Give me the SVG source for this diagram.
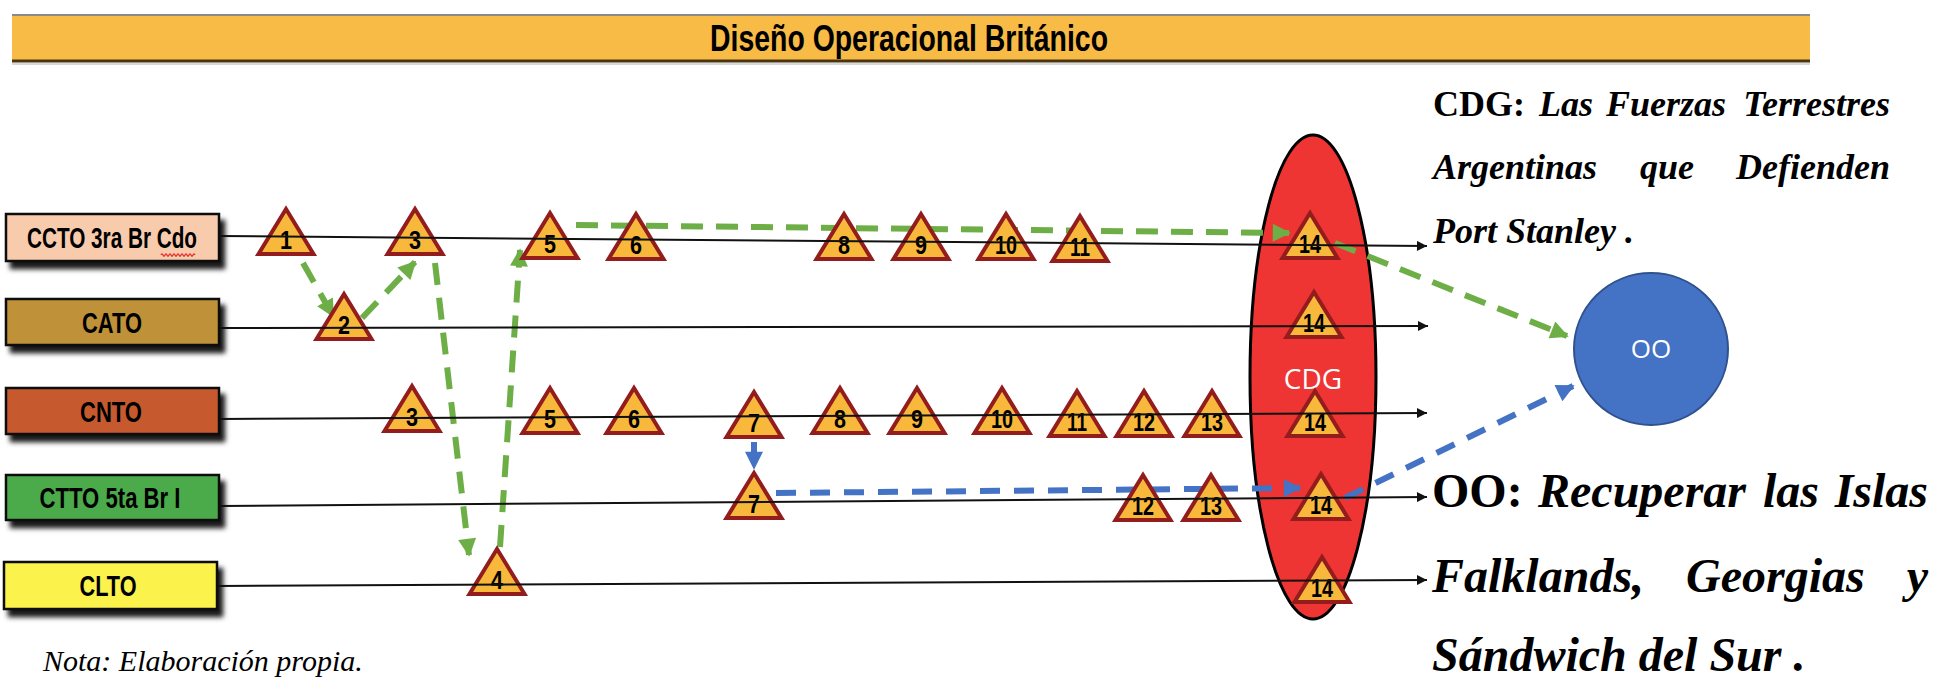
<svg xmlns="http://www.w3.org/2000/svg" xmlns:xlink="http://www.w3.org/1999/xlink" width="1937" height="683" viewBox="0 0 1937 683">
<style>
.box{stroke:#111;stroke-width:2.5}
.blabel{font-family:"Liberation Sans","DejaVu Sans Condensed",sans-serif;font-weight:bold;font-size:29px;fill:#000;text-anchor:middle}
.tri{fill:#F8B83C;stroke:#931C1C;stroke-width:4;stroke-linejoin:miter}
.num{font-family:"Liberation Sans","DejaVu Sans Condensed",sans-serif;font-weight:bold;font-size:26px;fill:#000;text-anchor:middle}
.row{stroke:#111;stroke-width:2;fill:none}
.g{stroke:#6EAE47;stroke-width:6;fill:none;stroke-dasharray:22 13}
.b{stroke:#4472C4;stroke-width:6;fill:none;stroke-dasharray:20 14}
.serif{font-family:"Liberation Serif","Times New Roman",serif;font-weight:bold;fill:#000}
.it{font-style:italic}
</style>
<defs>
<filter id="sh" x="-10%" y="-20%" width="130%" height="160%">
<feDropShadow dx="5" dy="7" stdDeviation="2.5" flood-color="#000" flood-opacity="0.9"/>
</filter>
<marker id="ag" viewBox="0 0 10 10" refX="9" refY="5" markerWidth="20" markerHeight="18" markerUnits="userSpaceOnUse" orient="auto"><path d="M0,0 L10,5 L0,10 z" fill="#6EAE47"/></marker>
<marker id="ab" viewBox="0 0 10 10" refX="9" refY="5" markerWidth="20" markerHeight="18" markerUnits="userSpaceOnUse" orient="auto"><path d="M0,0 L10,5 L0,10 z" fill="#4472C4"/></marker>
<marker id="ak" viewBox="0 0 10 10" refX="10" refY="5" markerWidth="12" markerHeight="10" markerUnits="userSpaceOnUse" orient="auto"><path d="M0,0 L10,5 L0,10 z" fill="#111"/></marker>
<path id="tr" d="M-27.5,0 L0,-45 L27.5,0 Z"/>
</defs>
<rect width="1937" height="683" fill="#fff"/>

<g id="title">
<rect x="12" y="15" width="1798" height="47" fill="#F7BB46"/>
<line x1="12" y1="15" x2="1810" y2="15" stroke="#8a8a8a" stroke-width="2"/>
<line x1="12" y1="61" x2="1810" y2="61" stroke="#4a3510" stroke-width="3"/>
<line x1="12" y1="64" x2="1810" y2="64" stroke="#d8d8d8" stroke-width="2"/>
<text x="909" y="51" font-family="Liberation Sans,DejaVu Sans Condensed,sans-serif" font-weight="bold" font-size="36" text-anchor="middle" textLength="398" lengthAdjust="spacingAndGlyphs">Diseño Operacional Británico</text>
</g>

<g id="cdg">
<ellipse cx="1313" cy="377" rx="63" ry="242" fill="#EE3533" stroke="#000" stroke-width="3"/>
<text x="1313" y="389" font-family="Open Sans,Liberation Sans,sans-serif" font-size="28" fill="#fff" text-anchor="middle">CDG</text>
</g>

<g id="oo">
<ellipse cx="1651" cy="349" rx="77" ry="76" fill="#4472C4" stroke="#2F528F" stroke-width="2"/>
<text x="1651" y="358" font-family="Open Sans,Liberation Sans,sans-serif" font-size="26" fill="#fff" text-anchor="middle">OO</text>
</g>

<g id="connectors-dashed">
<line class="g" x1="303" y1="263" x2="333" y2="316" marker-end="url(#ag)"/>
<line class="g" x1="362" y1="318" x2="415" y2="262" marker-end="url(#ag)"/>
<line class="g" x1="435" y1="263" x2="469" y2="555" marker-end="url(#ag)"/>
<line class="g" x1="500" y1="547" x2="520" y2="250" marker-end="url(#ag)"/>
<line class="g" x1="576" y1="225" x2="1289" y2="233" marker-end="url(#ag)"/>
<line class="g" x1="1335" y1="243" x2="1567" y2="336" marker-end="url(#ag)"/>
<line class="b" x1="754" y1="442" x2="754" y2="468" stroke-dasharray="none" marker-end="url(#ab)"/>
<line class="b" x1="776" y1="493" x2="1300" y2="488" marker-end="url(#ab)"/>
<line class="b" x1="1345" y1="498" x2="1573" y2="386" marker-end="url(#ab)"/>
</g>

<g id="box-ccto"><rect class="box" x="6" y="214" width="213" height="47" fill="#F8CBAD" filter="url(#sh)"/><text class="blabel" x="112" y="248" textLength="170" lengthAdjust="spacingAndGlyphs">CCTO 3ra Br Cdo</text><path d="M161,255 q1,-2.5 2,0 t2,0 t2,0 t2,0 t2,0 t2,0 t2,0 t2,0 t2,0 t2,0 t2,0 t2,0 t2,0 t2,0 t2,0 t2,0 t2,0" fill="none" stroke="#e02020" stroke-width="1.2"/></g>
<g id="box-cato"><rect class="box" x="6" y="299" width="213" height="46" fill="#BF9137" filter="url(#sh)"/><text class="blabel" x="112" y="333" textLength="60" lengthAdjust="spacingAndGlyphs">CATO</text></g>
<g id="box-cnto"><rect class="box" x="6" y="388" width="213" height="46" fill="#C65A2E" filter="url(#sh)"/><text class="blabel" x="111" y="422" textLength="62" lengthAdjust="spacingAndGlyphs">CNTO</text></g>
<g id="box-ctto"><rect class="box" x="6" y="475" width="213" height="45" fill="#4CAB4C" filter="url(#sh)"/><text class="blabel" x="110" y="508" textLength="141" lengthAdjust="spacingAndGlyphs">CTTO 5ta Br I</text></g>
<g id="box-clto"><rect class="box" x="4" y="562" width="213" height="47" fill="#FBF24C" filter="url(#sh)"/><text class="blabel" x="108" y="596" textLength="57" lengthAdjust="spacingAndGlyphs">CLTO</text></g>

<g id="r1-1"><use href="#tr" class="tri" x="286" y="254"/><text class="num" x="286" y="249" textLength="12" lengthAdjust="spacingAndGlyphs">1</text></g>
<g id="r1-3"><use href="#tr" class="tri" x="415" y="254"/><text class="num" x="415" y="249" textLength="12" lengthAdjust="spacingAndGlyphs">3</text></g>
<g id="r1-5"><use href="#tr" class="tri" x="550" y="258"/><text class="num" x="550" y="253" textLength="12" lengthAdjust="spacingAndGlyphs">5</text></g>
<g id="r1-6"><use href="#tr" class="tri" x="636" y="259"/><text class="num" x="636" y="254" textLength="12" lengthAdjust="spacingAndGlyphs">6</text></g>
<g id="r1-8"><use href="#tr" class="tri" x="844" y="259"/><text class="num" x="844" y="254" textLength="12" lengthAdjust="spacingAndGlyphs">8</text></g>
<g id="r1-9"><use href="#tr" class="tri" x="921" y="259"/><text class="num" x="921" y="254" textLength="12" lengthAdjust="spacingAndGlyphs">9</text></g>
<g id="r1-10"><use href="#tr" class="tri" x="1006" y="259"/><text class="num" x="1006" y="254" textLength="22" lengthAdjust="spacingAndGlyphs">10</text></g>
<g id="r1-11"><use href="#tr" class="tri" x="1080" y="261"/><text class="num" x="1080" y="256" textLength="20" lengthAdjust="spacingAndGlyphs">11</text></g>
<g id="r1-14"><use href="#tr" class="tri" x="1310" y="258"/><text class="num" x="1310" y="253" textLength="22" lengthAdjust="spacingAndGlyphs">14</text></g>

<g id="r2-2"><use href="#tr" class="tri" x="344" y="339"/><text class="num" x="344" y="334" textLength="12" lengthAdjust="spacingAndGlyphs">2</text></g>
<g id="r2-14"><use href="#tr" class="tri" x="1314" y="337"/><text class="num" x="1314" y="332" textLength="22" lengthAdjust="spacingAndGlyphs">14</text></g>

<g id="r3-3"><use href="#tr" class="tri" x="412" y="431"/><text class="num" x="412" y="426" textLength="12" lengthAdjust="spacingAndGlyphs">3</text></g>
<g id="r3-5"><use href="#tr" class="tri" x="550" y="433"/><text class="num" x="550" y="428" textLength="12" lengthAdjust="spacingAndGlyphs">5</text></g>
<g id="r3-6"><use href="#tr" class="tri" x="634" y="433"/><text class="num" x="634" y="428" textLength="12" lengthAdjust="spacingAndGlyphs">6</text></g>
<g id="r3-7"><use href="#tr" class="tri" x="754" y="437"/><text class="num" x="754" y="432" textLength="12" lengthAdjust="spacingAndGlyphs">7</text></g>
<g id="r3-8"><use href="#tr" class="tri" x="840" y="433"/><text class="num" x="840" y="428" textLength="12" lengthAdjust="spacingAndGlyphs">8</text></g>
<g id="r3-9"><use href="#tr" class="tri" x="917" y="433"/><text class="num" x="917" y="428" textLength="12" lengthAdjust="spacingAndGlyphs">9</text></g>
<g id="r3-10"><use href="#tr" class="tri" x="1002" y="433"/><text class="num" x="1002" y="428" textLength="22" lengthAdjust="spacingAndGlyphs">10</text></g>
<g id="r3-11"><use href="#tr" class="tri" x="1077" y="436"/><text class="num" x="1077" y="431" textLength="20" lengthAdjust="spacingAndGlyphs">11</text></g>
<g id="r3-12"><use href="#tr" class="tri" x="1144" y="436"/><text class="num" x="1144" y="431" textLength="22" lengthAdjust="spacingAndGlyphs">12</text></g>
<g id="r3-13"><use href="#tr" class="tri" x="1212" y="436"/><text class="num" x="1212" y="431" textLength="22" lengthAdjust="spacingAndGlyphs">13</text></g>
<g id="r3-14"><use href="#tr" class="tri" x="1315" y="436"/><text class="num" x="1315" y="431" textLength="22" lengthAdjust="spacingAndGlyphs">14</text></g>

<g id="r4-7"><use href="#tr" class="tri" x="754" y="518"/><text class="num" x="754" y="513" textLength="12" lengthAdjust="spacingAndGlyphs">7</text></g>
<g id="r4-12"><use href="#tr" class="tri" x="1143" y="520"/><text class="num" x="1143" y="515" textLength="22" lengthAdjust="spacingAndGlyphs">12</text></g>
<g id="r4-13"><use href="#tr" class="tri" x="1211" y="520"/><text class="num" x="1211" y="515" textLength="22" lengthAdjust="spacingAndGlyphs">13</text></g>
<g id="r4-14"><use href="#tr" class="tri" x="1321" y="519"/><text class="num" x="1321" y="514" textLength="22" lengthAdjust="spacingAndGlyphs">14</text></g>

<g id="r5-4"><use href="#tr" class="tri" x="497" y="594"/><text class="num" x="497" y="589" textLength="12" lengthAdjust="spacingAndGlyphs">4</text></g>
<g id="r5-14"><use href="#tr" class="tri" x="1322" y="602"/><text class="num" x="1322" y="597" textLength="22" lengthAdjust="spacingAndGlyphs">14</text></g>

<g id="connectors-rows">
<line class="row" x1="220" y1="236" x2="1427" y2="246" marker-end="url(#ak)"/>
<line class="row" x1="220" y1="328" x2="1428" y2="326" marker-end="url(#ak)"/>
<line class="row" x1="220" y1="419" x2="1427" y2="413" marker-end="url(#ak)"/>
<line class="row" x1="220" y1="506" x2="1427" y2="497" marker-end="url(#ak)"/>
<line class="row" x1="218" y1="586" x2="1427" y2="580" marker-end="url(#ak)"/>
</g>

<g id="cdg-text" class="serif" font-size="36">
<text x="1433" y="116">CDG:</text>
<text class="it" x="1539" y="116">Las</text>
<text class="it" x="1606" y="116">Fuerzas</text>
<text class="it" x="1890" y="116" text-anchor="end">Terrestres</text>
<text class="it" x="1433" y="179">Argentinas</text>
<text class="it" x="1640" y="179">que</text>
<text class="it" x="1890" y="179" text-anchor="end">Defienden</text>
<text class="it" x="1433" y="243">Port Stanley .</text>
</g>

<g id="oo-text" class="serif" font-size="48">
<text x="1432" y="507">OO:</text>
<text class="it" x="1538" y="507">Recuperar</text>
<text class="it" x="1763" y="507">las</text>
<text class="it" x="1928" y="507" text-anchor="end">Islas</text>
<text class="it" x="1432" y="592">Falklands,</text>
<text class="it" x="1686" y="592">Georgias</text>
<text class="it" x="1928" y="592" text-anchor="end">y</text>
<text class="it" x="1432" y="671">Sándwich del Sur .</text>
</g>

<text id="nota" x="43" y="671" font-family="Liberation Serif,Times New Roman,serif" font-style="italic" font-size="30">Nota: Elaboración propia.</text>
</svg>
